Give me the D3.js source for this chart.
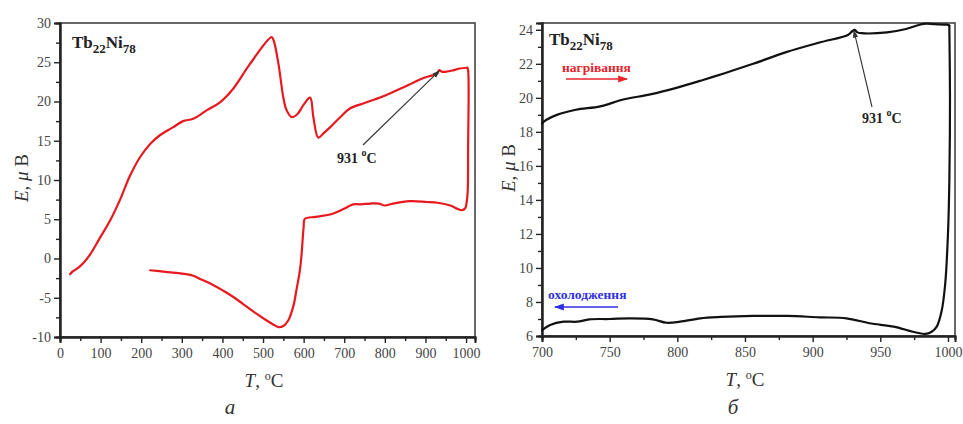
<!DOCTYPE html>
<html><head><meta charset="utf-8">
<script src="https://cdn.jsdelivr.net/npm/d3@7"></script>
<style>
html,body{margin:0;padding:0;background:#fff;}
svg{display:block;}
text{font-family:"Liberation Serif","Times New Roman",serif;}
</style></head>
<body>
<script>
// ---- Panel a: full heating / cooling loop ----
const heatA_T = [25,30,42,57,74,98,123,148,172,197,222,246,278,303,328,362,394,426,468,521,526,538,550,558,571,585,600,616,624,636,650,665,690,714,750,788,820,846,870,895,915,928,934,940,952,970,985,1003];
const heatA_E = [-2.0,-1.7,-1.3,-0.6,0.5,2.6,4.8,7.5,10.5,12.9,14.6,15.7,16.7,17.5,17.8,18.9,19.9,21.6,24.8,28.2,27.8,24.8,20.5,18.9,18.0,18.4,19.6,20.5,18.0,15.4,16.0,16.7,18.0,19.1,19.8,20.5,21.2,21.8,22.4,23.0,23.3,23.5,24.0,23.8,23.8,24.0,24.2,24.3];
const coolA_T = [1003,1005,1005,1004,1001,998,989,980,961,930,903,862,820,800,785,764,740,722,698,665,630,603,600,597,594,590,583,575,562,550,538,525,509,480,451,427,402,378,345,328,296,260,222];
const coolA_E = [24.3,24.0,14.0,8.5,7.0,6.4,6.15,6.3,6.75,7.1,7.2,7.3,7.0,6.75,7.0,7.0,6.9,6.9,6.3,5.6,5.3,5.05,4.0,2.0,0.0,-1.8,-3.8,-6.0,-7.9,-8.6,-8.75,-8.4,-7.9,-6.9,-5.8,-4.9,-4.1,-3.4,-2.6,-2.2,-1.9,-1.7,-1.5];
const ticksAx = [0,100,200,300,400,500,600,700,800,900,1000];
const ticksAy = [-10,-5,0,5,10,15,20,25,30];

// ---- Panel б: zoom 700–1000 °C ----
const heatB_T = [700,703,711,725,743,760,780,800,819,835,856,881,905,926,929,931,933,936,955,969,982,990,999,1001];
const heatB_E = [18.5,18.7,19.0,19.3,19.5,19.9,20.2,20.6,21.05,21.45,22.0,22.7,23.25,23.7,23.9,24.0,23.85,23.8,23.85,24.05,24.35,24.33,24.3,24.25];
const coolB_T = [1001,1001.5,1001,1000,998,995.4,991.7,988,983,974,960,942,925,905,881,856,832,817,802,792,782,765,750,735,726,716,706,700];
const coolB_E = [24.25,20,15,12.0,9.1,7.5,6.55,6.25,6.12,6.25,6.55,6.75,7.04,7.1,7.18,7.18,7.12,7.04,6.84,6.78,6.98,7.04,7.0,6.98,6.84,6.84,6.65,6.35];
const ticksBx = [700,750,800,850,900,950,1000];
const ticksBy = [6,8,10,12,14,16,18,20,22,24];

const W = 963, H = 424;
const svg = d3.select("body").append("svg").attr("width", W).attr("height", H);
svg.append("rect").attr("width", W).attr("height", H).attr("fill", "#fff");

const defs = svg.append("defs");
function marker(id, color){
  defs.append("marker").attr("id", id).attr("viewBox","0 0 10 10").attr("refX",9).attr("refY",5)
    .attr("markerWidth",7).attr("markerHeight",7).attr("orient","auto-start-reverse")
    .append("path").attr("d","M0,1.5 L10,5 L0,8.5 Z").attr("fill", color);
}
marker("arrGray", "#333"); marker("arrRed", "#e8232a"); marker("arrBlue", "#2f2fe0");

const fmt = d => String(d);

function panel(o){
  const x = d3.scaleLinear().domain(o.xd).range([o.x0, o.x1]);
  const y = d3.scaleLinear().domain(o.yd).range([o.y1, o.y0]);
  const g = svg.append("g");
  g.append("rect").attr("x", o.x0).attr("y", o.y0).attr("width", o.x1-o.x0).attr("height", o.y1-o.y0)
    .attr("fill","none").attr("stroke","#444").attr("stroke-width",1.6);
  const styleAxis = sel => {
    sel.attr("font-family", null);
    sel.select(".domain").attr("stroke","#222").attr("stroke-width",2);
    sel.selectAll(".tick line").attr("stroke","#222").attr("stroke-width",1.4);
    sel.selectAll("text").attr("font-size",14).attr("fill","#444");
  };
  g.append("g").attr("transform",`translate(0,${o.y1})`)
    .call(d3.axisBottom(x).tickValues(o.xminor).tickSize(4).tickFormat(""))
    .call(styleAxis);
  g.append("g").attr("transform",`translate(${o.x0},0)`)
    .call(d3.axisLeft(y).tickValues(o.yminor).tickSize(4).tickFormat(""))
    .call(styleAxis);
  g.append("g").attr("transform",`translate(0,${o.y1})`)
    .call(d3.axisBottom(x).tickValues(o.xt).tickSize(6).tickPadding(5).tickFormat(fmt))
    .call(styleAxis);
  g.append("g").attr("transform",`translate(${o.x0},0)`)
    .call(d3.axisLeft(y).tickValues(o.yt).tickSize(6).tickPadding(3).tickFormat(fmt))
    .call(styleAxis);
  return {x, y, g};
}

const A = panel({x0:60, x1:475, y0:23, y1:337, xd:[0,1022], yd:[-10,30],
  xt:ticksAx, yt:ticksAy,
  xminor: d3.range(50, 1001, 100), yminor: d3.range(-7.5, 30, 5)});
const B = panel({x0:542, x1:955, y0:23, y1:336, xd:[700,1005.2], yd:[6,24.4],
  xt:ticksBx, yt:ticksBy,
  xminor: d3.range(725, 1001, 50), yminor: d3.range(7, 25, 2)});

function curve(P, Ts, Es, color, w){
  const pts = Ts.map((t,i)=>[t, Es[i]]);
  P.g.append("path").datum(pts)
    .attr("d", d3.line().x(d=>P.x(d[0])).y(d=>P.y(d[1])).curve(d3.curveCatmullRom.alpha(0.5)))
    .attr("fill","none").attr("stroke",color).attr("stroke-width",w).attr("stroke-linejoin","round").attr("stroke-linecap","round");
}
curve(A, heatA_T, heatA_E, "#e8191e", 2.2);
curve(A, coolA_T, coolA_E, "#e8191e", 2.2);
curve(B, heatB_T, heatB_E, "#111", 2.2);
curve(B, coolB_T, coolB_E, "#111", 2.2);

function comp(xp, yp){
  const t = svg.append("text").attr("x", xp).attr("y", yp).attr("font-weight","bold").attr("font-size",17).attr("fill","#222");
  t.append("tspan").text("Tb");
  t.append("tspan").attr("font-size",13).attr("dy",5).text("22");
  t.append("tspan").attr("dy",-5).text("Ni");
  t.append("tspan").attr("font-size",13).attr("dy",5).text("78");
}
comp(72, 48); comp(549, 45);

function anno(P, tx, ty, xs, ys, xe, ye){
  svg.append("line").attr("x1",xs).attr("y1",ys).attr("x2",P.x(xe)).attr("y2",P.y(ye))
    .attr("stroke","#333").attr("stroke-width",1.1).attr("marker-end","url(#arrGray)");
  const t = svg.append("text").attr("x",tx).attr("y",ty).attr("font-weight","bold").attr("font-size",14).attr("fill","#222");
  t.append("tspan").text("931 ");
  t.append("tspan").attr("font-size",10).attr("dy",-7).text("o");
  t.append("tspan").attr("dy",7).text("C");
}
anno(A, 337, 163, 363, 145, 934, 23.9);
anno(B, 862, 123, 872, 107, 930.5, 23.95);

svg.append("text").attr("x",562).attr("y",72).attr("font-weight","bold").attr("font-size",13.5).attr("fill","#e8232a").text("нагрівання");
svg.append("line").attr("x1",566).attr("y1",79).attr("x2",627).attr("y2",79).attr("stroke","#e8232a").attr("stroke-width",1.4).attr("marker-end","url(#arrRed)");
svg.append("text").attr("x",548).attr("y",299).attr("font-weight","bold").attr("font-size",13.5).attr("fill","#2f2fe0").text("охолодження");
svg.append("line").attr("x1",618).attr("y1",307).attr("x2",555).attr("y2",307).attr("stroke","#2f2fe0").attr("stroke-width",1.4).attr("marker-end","url(#arrBlue)");

function ytitle(cx, cy){
  const t = svg.append("text").attr("transform",`translate(${cx},${cy}) rotate(-90)`).attr("text-anchor","middle")
    .attr("font-size",19).attr("fill","#333");
  t.append("tspan").attr("font-style","italic").text("E");
  t.append("tspan").text(", ");
  t.append("tspan").attr("font-style","italic").text("μ");
  t.append("tspan").text(" B");
}
ytitle(28, 178); ytitle(515, 168);
function xtitle(cx, cy){
  const t = svg.append("text").attr("x",cx).attr("y",cy).attr("text-anchor","middle").attr("font-size",19).attr("fill","#333");
  t.append("tspan").attr("font-style","italic").text("T");
  t.append("tspan").text(", ");
  t.append("tspan").attr("font-size",12).attr("dy",-7).text("o");
  t.append("tspan").attr("dy",7).text("C");
}
xtitle(264, 387); xtitle(745, 386);
svg.append("text").attr("x",230).attr("y",414).attr("text-anchor","middle").attr("font-style","italic").attr("font-size",21).attr("fill","#333").text("а");
svg.append("text").attr("x",733).attr("y",414).attr("text-anchor","middle").attr("font-style","italic").attr("font-size",21).attr("fill","#333").text("б");
</script>
</body></html>
